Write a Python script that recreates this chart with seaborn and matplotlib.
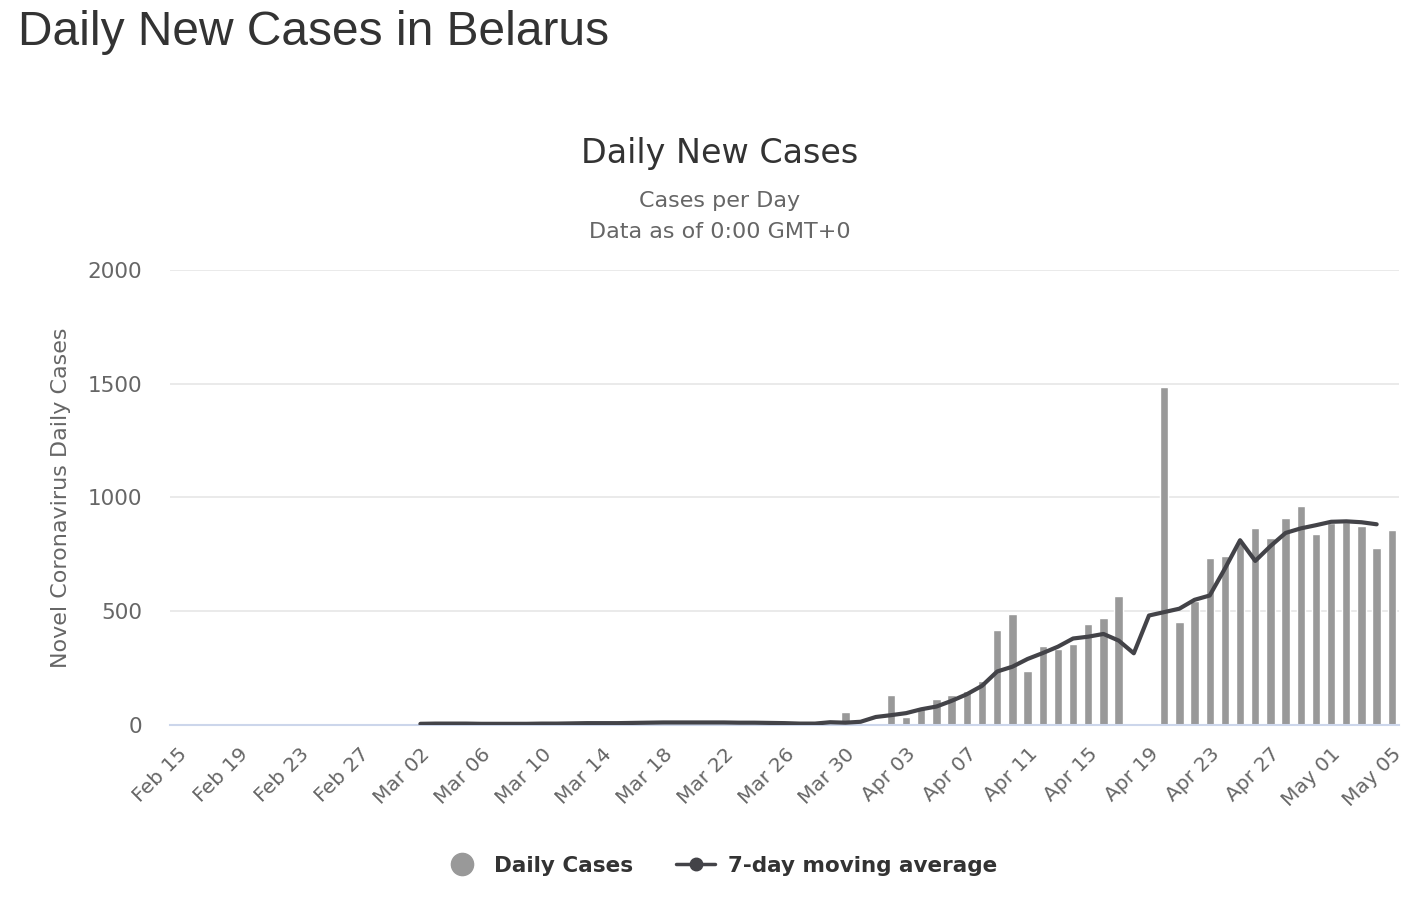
import pandas as pd
import matplotlib.pyplot as plt
import seaborn as sns
from matplotlib.lines import Line2D

dates = pd.date_range("2020-02-15", "2020-05-05", freq="D")

daily_cases = (
    [0] * 13 + [1, 0]
    + [0, 0, 5, 0, 0, 0, 0, 0, 0, 0, 3, 0, 0, 8, 0, 0, 9, 10, 0, 8, 0, 0, 5, 5, 0, 0, 0, 10, 9]
    + [55, 0]
    + [0, 133, 35, 80, 115, 133, 150, 194, 416, 486, 239, 345, 336, 354, 442, 469, 566, 0, 0,
       1485, 451, 545, 734, 743, 805, 866, 822, 911, 963, 840]
    + [888, 893, 875, 778, 858]
)

# 7-day moving average, Mar 02 .. May 04
avg_start = "2020-03-02"
avg_values = [
    5, 6, 6, 6, 5, 5, 5, 5, 6, 6, 7, 8, 8, 8, 9, 10, 11, 11, 11, 11, 11, 10, 10, 9, 8, 6, 6, 12,
    10, 14, 35, 43, 52, 69, 81, 106, 135, 172, 235, 256, 290, 316, 344, 380, 388, 400, 371, 315,
    481, 496, 511, 550, 569, 687, 812, 721, 786, 844, 864, 878, 893, 895, 891, 882,
]

y_ticks = [0, 500, 1000, 1500, 2000]

df = pd.DataFrame({"date": dates, "cases": daily_cases})
df["day"] = range(len(df))
avg_df = pd.DataFrame({"date": pd.date_range(avg_start, periods=len(avg_values)), "avg": avg_values})
avg_df["day"] = (avg_df["date"] - dates[0]).dt.days

sns.set_style("white")
plt.rcParams["font.family"] = ["DejaVu Sans"]

fig = plt.figure(figsize=(14.28, 8.98), dpi=100)
ax = fig.add_axes([0.119, 0.1927, 0.861, 0.5067])

sns.barplot(data=df, x="day", y="cases", native_scale=True, width=0.55, color="#999999",
            saturation=1, ax=ax, zorder=2)
sns.lineplot(data=avg_df, x="day", y="avg", color="#434348", linewidth=3, ax=ax, zorder=3)

ax.set_xlim(-0.5, len(df) - 0.5)
ax.set_ylim(0, 2000)
ax.set_yticks(y_ticks)
ax.set_yticklabels([str(v) for v in y_ticks], fontsize=15.5, color="#666666")
tick_days = list(range(0, len(df), 4))
ax.set_xticks(tick_days)
ax.set_xticklabels([dates[i].strftime("%b %d") for i in tick_days], rotation=45, ha="right",
                   rotation_mode="anchor", fontsize=14.5, color="#666666")
ax.tick_params(axis="y", length=0, pad=20)
ax.tick_params(axis="x", length=0, pad=14)
ax.grid(axis="y", color="#e6e6e6", linewidth=1.2)
ax.set_axisbelow(True)
for s in ["top", "right", "left"]:
    ax.spines[s].set_visible(False)
ax.spines["bottom"].set_color("#ccd6eb")
ax.spines["bottom"].set_linewidth(1.5)
ax.set_xlabel("")
ax.set_ylabel("Novel Coronavirus Daily Cases", fontsize=16, color="#666666", labelpad=12)

fig.text(0.0126, 0.964, "Daily New Cases in Belarus", fontsize=34.5, color="#333333",
         family="Liberation Sans", va="center", ha="left")
fig.text(0.504, 0.829, "Daily New Cases", fontsize=24, color="#333333", ha="center", va="center")
fig.text(0.504, 0.776, "Cases per Day", fontsize=16, color="#666666", ha="center", va="center")
fig.text(0.504, 0.742, "Data as of 0:00 GMT+0", fontsize=16, color="#666666", ha="center", va="center")

handles = [
    Line2D([], [], marker="o", linestyle="none", markersize=16, color="#999999"),
    Line2D([], [], marker="o", linestyle="-", linewidth=2.5, markersize=9, color="#434348"),
]
leg = fig.legend(handles, ["Daily Cases", "7-day moving average"], loc="center",
                 bbox_to_anchor=(0.504, 0.036), ncol=2, frameon=False, handlelength=1.8,
                 handletextpad=0.6, columnspacing=2.0, prop={"size": 15.5, "weight": "bold"})
for t in leg.get_texts():
    t.set_color("#333333")

fig.savefig("out.png", dpi=100)
